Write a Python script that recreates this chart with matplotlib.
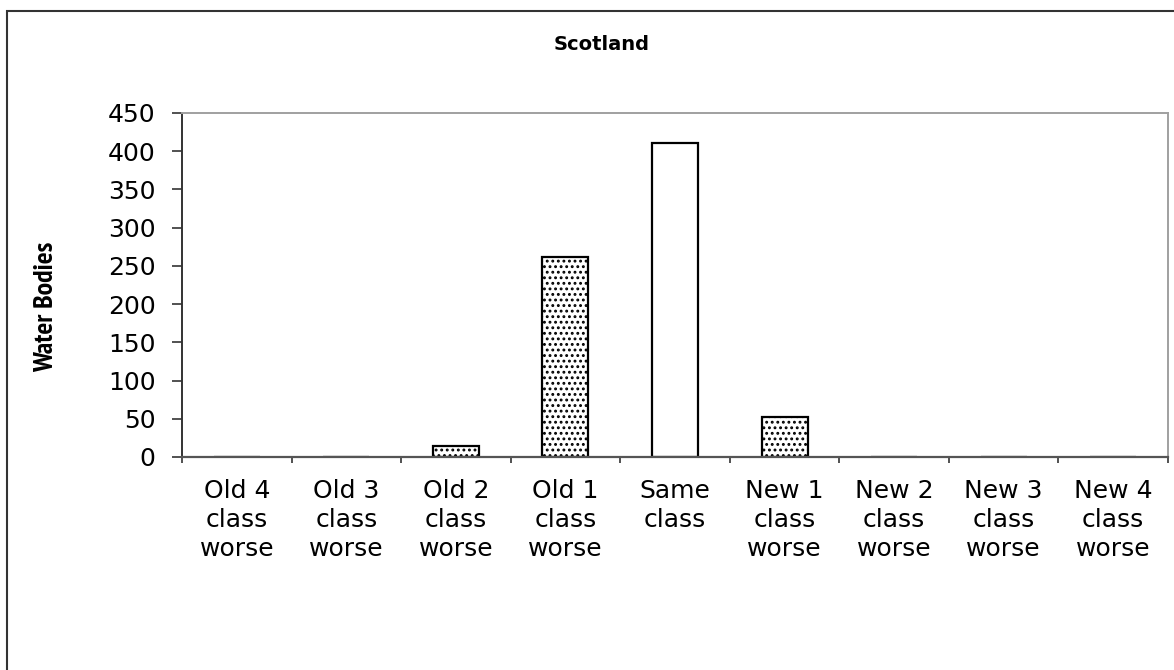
import matplotlib
matplotlib.use("Agg")
import matplotlib.pyplot as plt
from matplotlib.patches import Rectangle
from matplotlib import font_manager
from matplotlib.font_manager import FontProperties

categories = ["Old 4\nclass\nworse", "Old 3\nclass\nworse", "Old 2\nclass\nworse",
              "Old 1\nclass\nworse", "Same\nclass", "New 1\nclass\nworse",
              "New 2\nclass\nworse", "New 3\nclass\nworse", "New 4\nclass\nworse"]
values = [0, 0, 14, 262, 411, 52, 0, 0, 0]
hatches = ["...", "...", "...", "...", "", "...", "...", "...", "..."]
yticks = [0, 50, 100, 150, 200, 250, 300, 350, 400, 450]

W, H = 1174, 670
plt.rcParams['font.family'] = ['DejaVu Sans']
plt.rcParams['hatch.linewidth'] = 1.3
fig = plt.figure(figsize=(W / 100, H / 100), dpi=100)

# outer chart frame
fig.patches.append(Rectangle((7 / W, -0.1), 1.2, 1.1 - 11 / H, transform=fig.transFigure,
                             fill=False, edgecolor="#333333", linewidth=1.5))

left, right, top, bottom = 182, 1168, 113, 457
ax = fig.add_axes([left / W, 1 - bottom / H, (right - left) / W, (bottom - top) / H])

x = list(range(len(categories)))
ax.bar(x, values, width=0.42, color="white", edgecolor="black", linewidth=1.6,
       hatch=hatches, zorder=2)

ax.set_xlim(-0.5, len(categories) - 0.5)
ax.set_ylim(0, 450)
ax.set_yticks(yticks)
ax.set_yticklabels([str(v) for v in yticks], fontsize=18)

# category ticks sit on the boundaries between groups
ax.set_xticks([i - 0.5 for i in range(len(categories) + 1)])
ax.set_xticklabels([])
ax.set_xticks(x, minor=True)
ax.set_xticklabels(categories, minor=True, fontsize=18, linespacing=1.25, va="top")
ax.tick_params(axis="x", which="minor", length=0, pad=16)
ax.tick_params(axis="x", which="major", length=4.5, width=1.2, color="#333333", direction="out")
ax.tick_params(axis="y", length=7, width=1.2, color="#333333", direction="out", pad=12)

for s in ["top", "right"]:
    ax.spines[s].set_color("#a0a0a0")
    ax.spines[s].set_linewidth(1.4)
ax.spines["left"].set_color("#333333")
ax.spines["left"].set_linewidth(1.4)
ax.spines["bottom"].set_color("#555555")
ax.spines["bottom"].set_linewidth(1.6)
for sp in ax.spines.values():
    sp.set_zorder(3)

fig.text(602 / W, 1 - 45 / H, "Scotland", ha="center", va="center",
         fontsize=14, fontweight="bold")

# condensed bold face for the axis title
narrow_bold = [f for f in font_manager.fontManager.ttflist
               if "Narrow" in f.name and f.weight in ("bold", 700)]
if narrow_bold:
    ylab_fp = FontProperties(fname=narrow_bold[0].fname, size=20)
else:
    ylab_fp = FontProperties(family="Liberation Sans", weight="bold", size=15)
fig.text(46 / W, 1 - 307 / H, "Water Bodies", ha="center", va="center", rotation=90,
         fontproperties=ylab_fp)

fig.savefig("out.png", dpi=100)
